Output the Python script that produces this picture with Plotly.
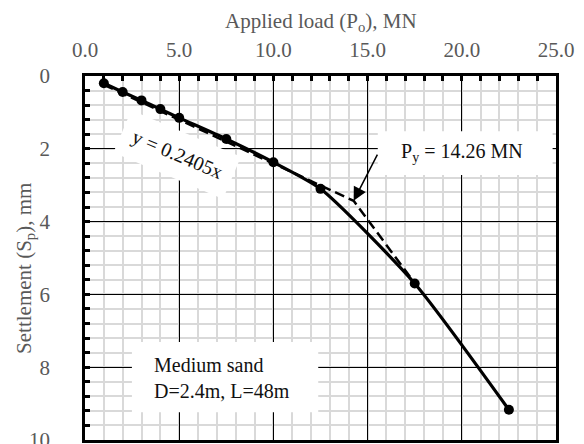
import plotly.graph_objects as go

# ---- data ----
load_mn = [1.0, 2.0, 3.0, 4.0, 5.0, 7.5, 10.0, 12.5, 17.5, 22.5]
settlement_mm = [0.20, 0.44, 0.67, 0.91, 1.15, 1.73, 2.37, 3.10, 5.70, 9.17]

trend_slope = 0.2405
yield_load = 14.26
bilinear_x = [1.0, 14.26, 17.3]
bilinear_y = [0.2405, 3.43, 5.55]

x_tick_vals = [0, 5, 10, 15, 20, 25]
x_tick_text = ["0.0", "5.0", "10.0", "15.0", "20.0", "25.0"]
y_tick_vals = [0, 2, 4, 6, 8, 10]
y_tick_text = ["0", "2", "4", "6", "8", "10"]

FONT = "Liberation Serif, Times New Roman, serif"
GRAY = "#595959"

fig = go.Figure()

fig.add_trace(go.Scatter(
    x=bilinear_x, y=bilinear_y, mode="lines",
    line=dict(color="black", width=2.5, dash="10px,5px"),
    showlegend=False, hoverinfo="skip"))

fig.add_trace(go.Scatter(
    x=load_mn, y=settlement_mm, mode="lines+markers",
    line=dict(color="black", width=3.2, shape="spline", smoothing=0.6),
    marker=dict(color="black", size=10),
    showlegend=False))

fig.update_layout(
    width=584, height=444,
    margin=dict(l=85, r=28, t=76, b=4, autoexpand=False),
    paper_bgcolor="white", plot_bgcolor="white",
    font=dict(family=FONT, size=21, color=GRAY),
    xaxis=dict(
        side="top", range=[0, 25], automargin=False,
        tickvals=x_tick_vals, ticktext=x_tick_text,
        showgrid=True, gridcolor="black", gridwidth=1,
        ticks="inside", ticklen=5, tickwidth=3, tickcolor="black",
        ticklabelstandoff=8, ticklabeloverflow="allow",
        showline=True, linecolor="black", linewidth=2.5, mirror=True,
        zeroline=False,
        minor=dict(dtick=1, showgrid=True, gridcolor="#d9d9d9", gridwidth=1.6,
                   ticks="inside", ticklen=5, tickwidth=3, tickcolor="black"),
        tickfont=dict(family=FONT, size=21, color=GRAY),
    ),
    yaxis=dict(
        range=[10, 0], automargin=False,
        tickvals=y_tick_vals, ticktext=y_tick_text,
        showgrid=True, gridcolor="black", gridwidth=1,
        ticks="inside", ticklen=5, tickwidth=3, tickcolor="black",
        ticklabelstandoff=28, ticklabeloverflow="allow",
        showline=True, linecolor="black", linewidth=2.5, mirror=True,
        zeroline=False,
        minor=dict(dtick=0.4, showgrid=True, gridcolor="#d9d9d9", gridwidth=1.6,
                   ticks="inside", ticklen=5, tickwidth=3, tickcolor="black"),
        tickfont=dict(family=FONT, size=21, color=GRAY),
    ),
)

# white boxes behind annotation texts (above gridlines, below traces)
fig.add_shape(type="rect", x0=15.54, x1=24.82, y0=1.52, y1=2.72,
              fillcolor="white", line=dict(width=0), layer="between")
fig.add_shape(type="rect", x0=2.49, x1=12.38, y0=7.31, y1=9.24,
              fillcolor="white", line=dict(width=0), layer="between")

# axis titles
fig.add_annotation(text="Applied load (P<sub>o</sub>), MN", xref="paper", yref="paper",
                   x=0.5, y=1, yshift=54, xanchor="center", yanchor="middle",
                   showarrow=False, font=dict(family=FONT, size=21, color=GRAY))
fig.add_annotation(text="Settlement (S<sub>p</sub>), mm", xref="paper", yref="paper",
                   x=0, xshift=-60, y=0.47, textangle=-90, xanchor="center", yanchor="middle",
                   showarrow=False, font=dict(family=FONT, size=21, color=GRAY))

# labels
fig.add_annotation(text="P<sub>y</sub> = 14.26 MN", x=20.0, y=2.11, xref="x", yref="y",
                   showarrow=False, font=dict(family=FONT, size=20, color="#111111"))
fig.add_annotation(text="", x=yield_load, y=trend_slope * yield_load,
                   ax=15.56, ay=2.12, axref="x", ayref="y", xref="x", yref="y",
                   showarrow=True, arrowhead=2, arrowsize=1.8, arrowwidth=1.5,
                   arrowcolor="black")
fig.add_annotation(text="Medium sand<br>D=2.4m, L=48m", x=3.55, y=8.29, xref="x", yref="y",
                   xanchor="left", align="left", showarrow=False,
                   font=dict(family=FONT, size=20, color="#111111"))
fig.add_annotation(text="y = 0.2405x", x=4.88, y=2.17, xref="x", yref="y",
                   textangle=23, showarrow=False, bgcolor="white", borderpad=11,
                   font=dict(family=FONT, size=20, color="#111111"))

fig.write_html("out.html")
